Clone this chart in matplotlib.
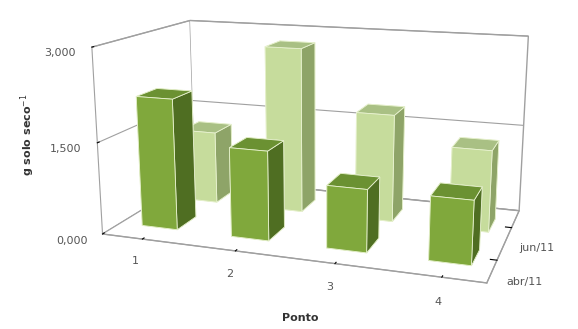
import matplotlib

matplotlib.use("Agg")
import matplotlib.pyplot as plt
import numpy as np

# Sampling points and campaigns
pontos = ["1", "2", "3", "4"]
campanhas = ["abr/11", "jun/11"]
abr_11 = [2.15, 1.45, 1.00, 1.00]
jun_11 = [1.25, 2.80, 1.80, 1.35]

# face colours: bottom, top, front(-y), back(+y), left(-x), right(+x)
DARK = ["#5f8228", "#6b9132", "#80a83c", "#80a83c", "#80a83c", "#4f6e22"]
LIGHT = ["#9fb67a", "#a9c084", "#c6dc9c", "#c6dc9c", "#c6dc9c", "#8ea468"]

fig = plt.figure(figsize=(5.78, 3.29), dpi=100)
ax = fig.add_axes([-0.02, -0.105, 1.12, 1.36], projection="3d")
ax.view_init(elev=14, azim=-71)
ax.set_proj_type("persp", focal_length=0.4)
ax.set_box_aspect((3.67, 2.0, 1.8), zoom=1.02)

w, d = 0.40, 0.45
series = [(abr_11, DARK, 0), (jun_11, LIGHT, 1)]
# draw back row first so the front row overlaps it
for vals, cols, j in reversed(series):
    for i, v in enumerate(vals):
        ax.bar3d(i - w / 2, j - d / 2, 0, w, d, v, color=cols, shade=False,
                 edgecolor="#e8f2d0", linewidth=0.6)

ax.set_xlim(-0.45, 3.4)
ax.set_ylim(-0.6, 1.6)
ax.set_zlim(0, 3)

ax.set_xticks(range(len(pontos)))
ax.set_xticklabels(pontos, fontsize=8, color="#555555")
ax.set_yticks(range(len(campanhas)))
ax.set_yticklabels(campanhas, fontsize=8, color="#555555")
ax.set_zticks([0, 1.5, 3])
ax.set_zticklabels(["0,000", "1,500", "3,000"], fontsize=8, color="#555555")
ax.zaxis.set_ticks_position("lower")

for axis in (ax.xaxis, ax.yaxis, ax.zaxis):
    axis.set_pane_color((1, 1, 1, 1))
    axis.pane.set_edgecolor("#a0a0a0")
    axis.line.set_color("#a0a0a0")
    axis._axinfo["tick"]["inward_factor"] = 0
    axis._axinfo["tick"]["outward_factor"] = 0.2
    axis._axinfo["tick"]["color"] = "#a0a0a0"
ax.zaxis._axinfo["grid"].update(color="#a0a0a0", linewidth=0.8)
ax.xaxis._axinfo["grid"].update(linewidth=0)
ax.yaxis._axinfo["grid"].update(linewidth=0)

fig.text(0.52, 0.025, "Ponto", ha="center", fontsize=8, fontweight="bold", color="#333333")
fig.text(0.048, 0.59, "g solo seco$^{-1}$", rotation=90, ha="center", va="center",
         fontsize=8, fontweight="bold", color="#333333")

fig.savefig("out.png", dpi=100)
